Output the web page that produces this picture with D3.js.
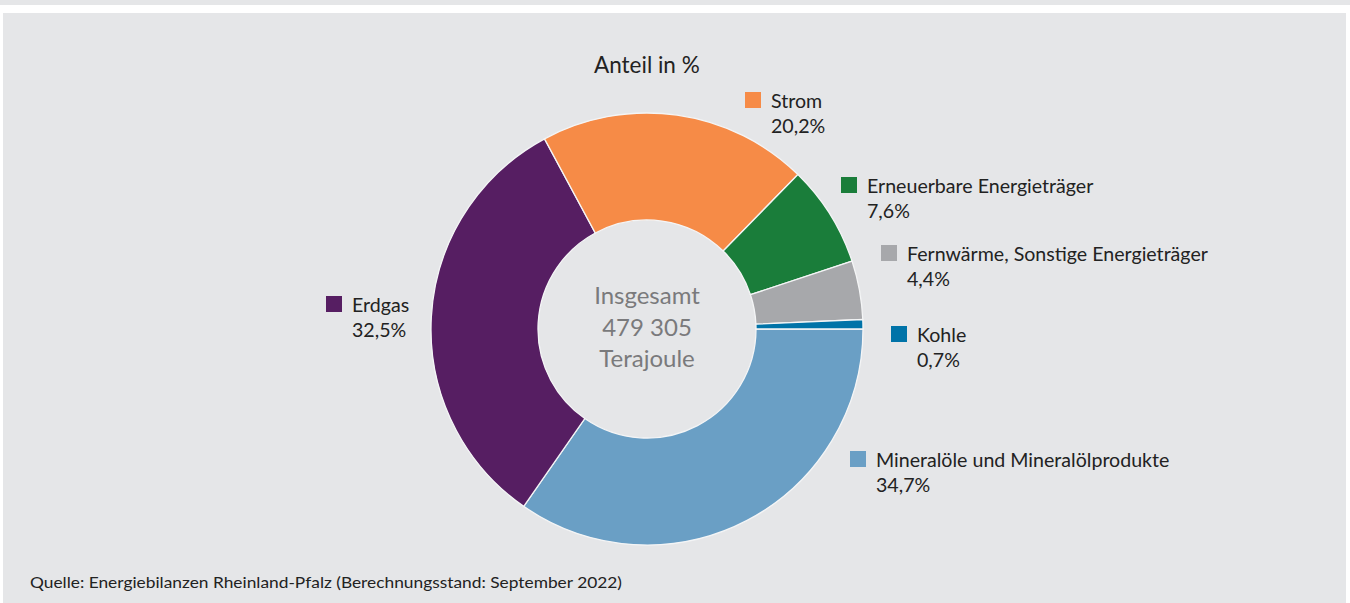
<!DOCTYPE html>
<html>
<head>
<meta charset="utf-8">
<script src="https://cdn.jsdelivr.net/npm/d3@7/dist/d3.min.js"></script>
<style>
  html, body { margin: 0; padding: 0; background: #ffffff; }
  svg { display: block; }
  text { font-family: Lato, "Open Sans", sans-serif; }
</style>
</head>
<body>
<svg id="chart" width="1350" height="603"></svg>
<script>
// Endenergieverbrauch nach Energieträgern (Anteil in %)
const categories = [
  "Mineralöle und Mineralölprodukte",
  "Erdgas",
  "Strom",
  "Erneuerbare Energieträger",
  "Fernwärme, Sonstige Energieträger",
  "Kohle"
];
const shares = [34.7, 32.5, 20.2, 7.6, 4.4, 0.7];
const valueLabels = ["34,7%", "32,5%", "20,2%", "7,6%", "4,4%", "0,7%"];
const colors = ["#6a9fc5", "#561e62", "#f68b47", "#1a7d3a", "#a7a8ab", "#0073a8"];
const totalLines = ["Insgesamt", "479 305", "Terajoule"];
const title = "Anteil in %";
const source = "Quelle: Energiebilanzen Rheinland-Pfalz (Berechnungsstand: September 2022)";

// Legend anchor (top-left of swatch) for each category
const legendPos = [
  [850, 451], [326, 296], [745, 92], [841, 177], [881, 245], [891, 326]
];

const W = 1350, H = 603;
const svg = d3.select("#chart");

// panel background
svg.append("rect").attr("x", 0).attr("y", 0).attr("width", W).attr("height", 5).attr("fill", "#e5e6e8");
svg.append("rect").attr("x", 3).attr("y", 13).attr("width", W - 7).attr("height", H - 13).attr("fill", "#e5e6e8");

const cx = 647, cy = 329, rOuter = 216, rInner = 109;

const pie = d3.pie()
  .sort(null)
  .value(d => d.value)
  .startAngle(Math.PI / 2)
  .endAngle(Math.PI / 2 + 2 * Math.PI);

const data = categories.map((c, i) => ({ name: c, value: shares[i], label: valueLabels[i], color: colors[i], pos: legendPos[i] }));
const arcs = pie(data);
const arc = d3.arc().innerRadius(rInner).outerRadius(rOuter);

const g = svg.append("g").attr("transform", `translate(${cx},${cy})`);
g.selectAll("path.slice")
  .data(arcs)
  .join("path")
  .attr("class", "slice")
  .attr("d", arc)
  .attr("fill", d => d.data.color)
  .attr("stroke", "#f4f5f6")
  .attr("stroke-width", 1.3);

// total in the centre
g.selectAll("text.total")
  .data(totalLines)
  .join("text")
  .attr("class", "total")
  .attr("text-anchor", "middle")
  .attr("x", 0)
  .attr("y", (d, i) => -25 + i * 31.5)
  .attr("font-size", 24)
  .attr("fill", "#7a7a7c")
  .text(d => d);

// title
svg.append("text")
  .attr("x", 594).attr("y", 73)
  .attr("font-size", 22.5)
  .attr("fill", "#222")
  .text(title);

// legend entries
const leg = svg.selectAll("g.legend")
  .data(data)
  .join("g")
  .attr("class", "legend")
  .attr("transform", d => `translate(${d.pos[0]},${d.pos[1]})`);
leg.append("rect").attr("width", 16).attr("height", 16).attr("fill", d => d.color);
leg.append("text").attr("x", 26).attr("y", 16).attr("font-size", 19.6).attr("fill", "#222").text(d => d.name);
leg.append("text").attr("x", 26).attr("y", 41).attr("font-size", 19.6).attr("fill", "#222").text(d => d.label);

// source note
svg.append("text")
  .attr("x", 30).attr("y", 588)
  .attr("font-size", 15)
  .attr("fill", "#222")
  .attr("textLength", 592)
  .attr("lengthAdjust", "spacingAndGlyphs")
  .text(source);
</script>
</body>
</html>
